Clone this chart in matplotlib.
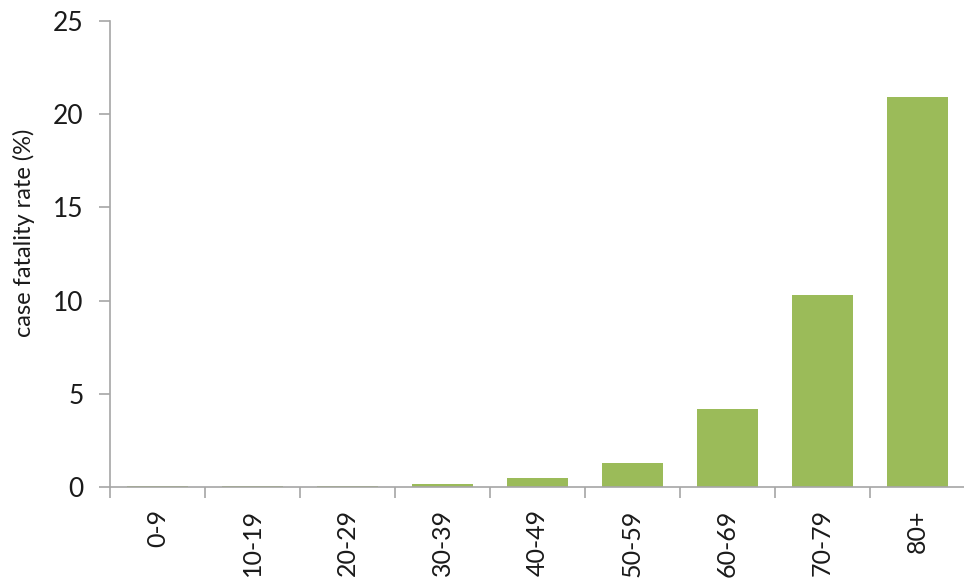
import matplotlib
matplotlib.use("Agg")
import matplotlib.pyplot as plt
from matplotlib.ticker import FixedLocator, NullFormatter
import numpy as np

categories = ["0-9", "10-19", "20-29", "30-39", "40-49", "50-59", "60-69", "70-79", "80+"]
values = [0.05, 0.05, 0.05, 0.15, 0.5, 1.3, 4.2, 10.3, 20.9]
yticks = [0, 5, 10, 15, 20, 25]

plt.rcParams['font.family'] = ['Lato', 'DejaVu Sans']

fig = plt.figure(figsize=(9.64, 5.78), dpi=100)
ax = fig.add_axes([110/964, 1-487/578, 855/964, 466/578])

x = np.arange(len(categories))
ax.bar(x, values, width=0.65, color="#9BBB59")
ax.set_xlim(-0.5, len(categories) - 0.5)
ax.set_ylim(0, 25)
ax.set_yticks(yticks)
ax.set_xticks(x)
ax.set_xticklabels(categories, rotation=90, fontsize=18, color="#1a1a1a")
ax.tick_params(axis='x', which='major', length=0, pad=16)
ax.xaxis.set_minor_locator(FixedLocator(np.arange(-0.5, len(categories), 1.0)))
ax.xaxis.set_minor_formatter(NullFormatter())
ax.tick_params(axis='x', which='minor', length=8, color="#A6A6A6", width=1.2)
ax.tick_params(axis='y', length=8, color="#A6A6A6", width=1.2, labelsize=19, labelcolor="#1a1a1a", pad=11)
ax.set_ylabel("case fatality rate (%)", fontsize=17, color="#1a1a1a", labelpad=10)
ax.yaxis.set_label_coords(-0.088, 0.545)

for s in ["top", "right"]:
    ax.spines[s].set_visible(False)
for s in ["left", "bottom"]:
    ax.spines[s].set_color("#A6A6A6")
    ax.spines[s].set_linewidth(1.2)

fig.savefig("out.png", dpi=100)
